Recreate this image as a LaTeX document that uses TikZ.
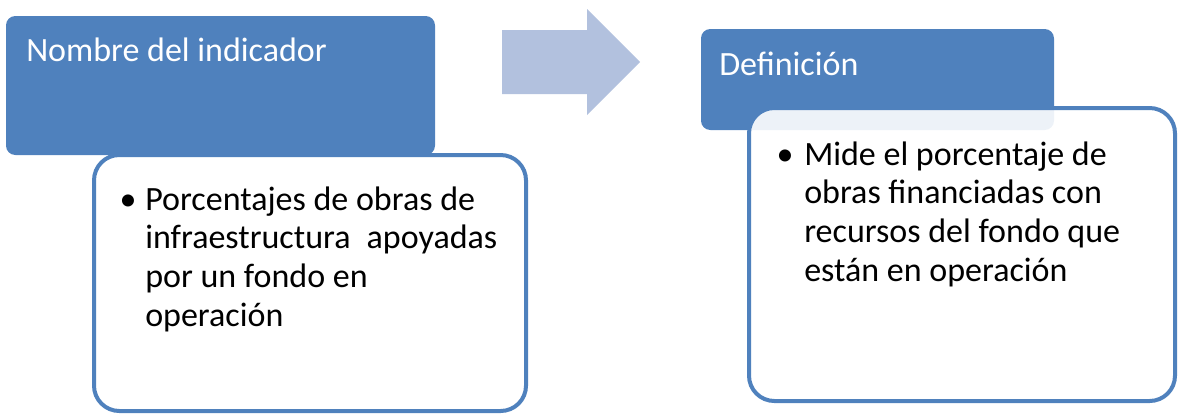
\documentclass[tikz,border=0pt]{standalone}
\usepackage{fontspec}
\setmainfont{Carlito}
\definecolor{boxblue}{HTML}{4F81BD}
\definecolor{arrowblue}{HTML}{B2C1DE}
\begin{document}
\begin{tikzpicture}[x=0.75pt,y=-0.75pt,font=\fontsize{25.5}{29}\selectfont]
\tikzstyle{title}=[fill=boxblue,rounded corners=7pt,inner sep=0pt,outer sep=0pt]
\tikzstyle{body}=[draw=boxblue,line width=3pt,fill=white,fill opacity=0.9,
  rounded corners=19pt,inner sep=0pt,outer sep=0pt]
\tikzstyle{head}=[text=white,anchor=base west,inner sep=0pt]
\tikzstyle{item}=[anchor=base west,inner sep=0pt,align=left]
\tikzstyle{dot}=[anchor=base,inner sep=0pt]

\useasboundingbox (0,0) rectangle (1178,415);

% left pair
\node[title,minimum width=321.75pt,minimum height=104.25pt] (t1) at (220.5,85.5) {};
\node[body,minimum width=324pt,minimum height=192pt] (b1) at (310,283) {};

% arrow between the pairs
\fill[arrowblue] (502,30) -- (587,30) -- (587,9) -- (640,62) -- (587,115)
  -- (587,94) -- (502,94) -- cycle;

% right pair
\node[title,minimum width=264.75pt,minimum height=75.75pt] (t2) at (877.5,79.5) {};
\node[body,minimum width=319.5pt,minimum height=219.75pt] (b2) at (962,254.5) {};

% texts (base = last line)
\node[head] (h1) at (26,61) {Nombre del indicador};
\node[dot] (d1) at (128,210) {•};
\node[item] (i1) at (145,326) {Porcentajes de obras de\\
  infraestructura\hspace{0.25em} apoyadas\\por un fondo en\\operación};

\node[head] (h2) at (719,75) {Definición};
\node[dot] (d2) at (785,165) {•};
\node[item] (i2) at (804,281) {Mide el porcentaje de\\obras financiadas con\\
  recursos del fondo que\\están en operación};
\end{tikzpicture}
\end{document}
